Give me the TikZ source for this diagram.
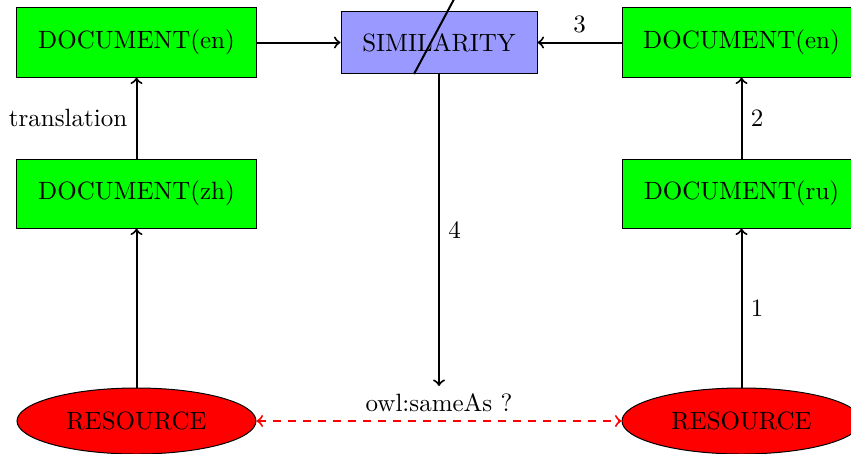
\documentclass[tikz,border=0pt]{standalone}
\usetikzlibrary{shapes.geometric}
\definecolor{simblue}{RGB}{153,153,255}
\begin{document}
\begin{tikzpicture}[x=0.4pt,y=-0.4pt,
  docbox/.style={draw=black,fill=green,minimum width=95.6pt,minimum height=27.6pt,inner sep=0pt},
  simbox/.style={draw=black,fill=simblue,minimum width=78.4pt,minimum height=24.8pt,inner sep=0pt},
  resbox/.style={draw=black,fill=red,ellipse,minimum width=95.6pt,minimum height=26.4pt,inner sep=0pt},
  conn/.style={->,thick},
  sameas/.style={<->,thick,dashed,red}]
\useasboundingbox (0,0) rectangle (851,453);
\node[docbox] (enL) at (136.5,42.5) {DOCUMENT(en)};
\node[docbox] (zh) at (136.5,193.5) {DOCUMENT(zh)};
\node[resbox] (resL) at (136.5,421) {RESOURCE};
\node[simbox] (sim) at (439,42.5) {SIMILARITY};
\node[docbox] (enR) at (741.5,42.5) {DOCUMENT(en)};
\node[docbox] (ru) at (741.5,193.5) {DOCUMENT(ru)};
\node[resbox] (resR) at (741.5,421) {RESOURCE};
\coordinate (c4) at (439,386);
\coordinate (d1) at (414,74);
\coordinate (d2) at (460,-12);
\draw[thick] (d1) -- (d2);
\draw[conn] (enL) -- (sim);
\draw[conn] (enR) -- node[above] {3} (sim);
\draw[conn] (zh) -- node[left] {translation} (enL);
\draw[conn] (resL) -- (zh);
\draw[conn] (resR) -- node[right] {1} (ru);
\draw[conn] (ru) -- node[right] {2} (enR);
\draw[conn] (sim.south) -- node[right] {4} (c4);
\draw[sameas] (resL) -- node[above,text=black] {owl:sameAs ?} (resR);
\end{tikzpicture}
\end{document}
